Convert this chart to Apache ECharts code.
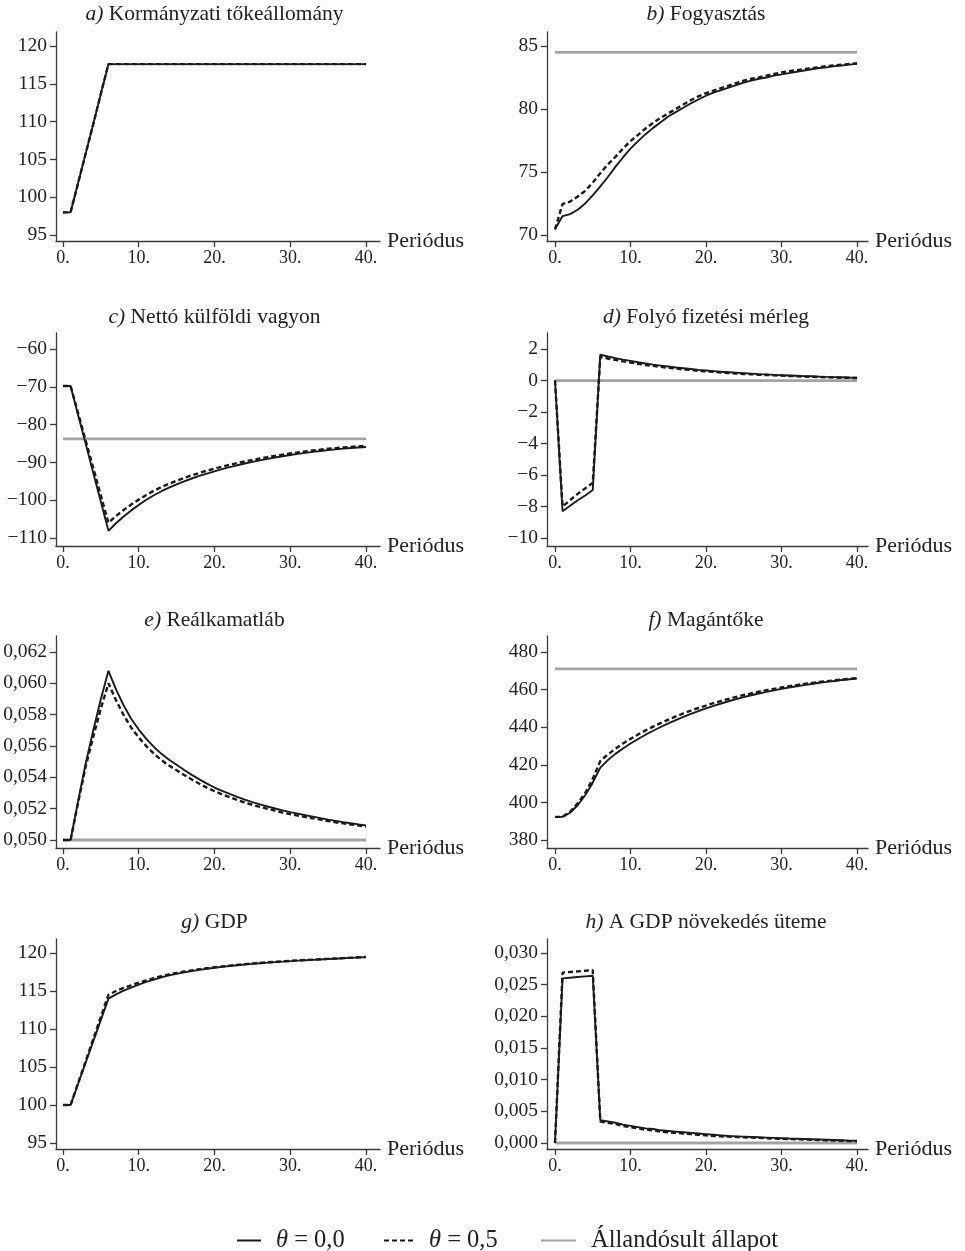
<!DOCTYPE html>
<html>
<head>
<meta charset="utf-8">
<script src="https://cdn.jsdelivr.net/npm/echarts@6/dist/echarts.min.js"></script>
<style>
html,body{margin:0;padding:0;background:#fff;}
#chart{width:965px;height:1251px;}
</style>
</head>
<body>
<div id="chart"></div>
<script>
// ---------- DATA ----------
const periods = [0,1,2,3,4,5,6,7,8,9,10,11,12,13,14,15,16,17,18,19,20,21,22,23,24,25,26,27,28,29,30,31,32,33,34,35,36,37,38,39,40];
const xTicks = [0,10,20,30,40];
const seriesNames = ['θ = 0,0', 'θ = 0,5', 'Állandósult állapot'];
const panelTitles = [
  ['a)', 'Kormányzati tőkeállomány'],
  ['b)', 'Fogyasztás'],
  ['c)', 'Nettó külföldi vagyon'],
  ['d)', 'Folyó fizetési mérleg'],
  ['e)', 'Reálkamatláb'],
  ['f)', 'Magántőke'],
  ['g)', 'GDP'],
  ['h)', 'A GDP növekedés üteme']
];

// a) Kormányzati tőkeállomány
const aTicks = [95,100,105,110,115,120];
const aTheta0 = [98,98,101.9,105.8,109.7,113.7,117.6,117.6,117.6,117.6,117.6,117.6,117.6,117.6,117.6,117.6,117.6,117.6,117.6,117.6,117.6,117.6,117.6,117.6,117.6,117.6,117.6,117.6,117.6,117.6,117.6,117.6,117.6,117.6,117.6,117.6,117.6,117.6,117.6,117.6,117.6];
const aTheta05 = [98,98,101.9,105.8,109.7,113.7,117.6,117.6,117.6,117.6,117.6,117.6,117.6,117.6,117.6,117.6,117.6,117.6,117.6,117.6,117.6,117.6,117.6,117.6,117.6,117.6,117.6,117.6,117.6,117.6,117.6,117.6,117.6,117.6,117.6,117.6,117.6,117.6,117.6,117.6,117.6];
const aSteady = null;

// b) Fogyasztás
const bTicks = [70,75,80,85];
const bTheta0 = [70.45,71.5,71.65,72.0,72.5,73.15,73.85,74.6,75.4,76.15,76.85,77.45,78.0,78.5,78.95,79.4,79.75,80.1,80.45,80.75,81.05,81.3,81.5,81.7,81.9,82.1,82.25,82.4,82.5,82.65,82.75,82.85,82.95,83.05,83.15,83.25,83.3,83.4,83.45,83.52,83.58];
const bTheta05 = [70.45,72.45,72.65,73.05,73.5,74.15,74.9,75.6,76.2,76.85,77.45,77.95,78.45,78.9,79.3,79.65,80.0,80.35,80.7,81.0,81.25,81.45,81.65,81.85,82.05,82.25,82.4,82.5,82.65,82.78,82.9,83.0,83.08,83.16,83.24,83.32,83.4,83.46,83.52,83.58,83.63];
const bSteady = 84.5;

// c) Nettó külföldi vagyon
const cTicks = [-110,-100,-90,-80,-70,-60];
const cTheta0 = [-69.8,-69.8,-77.5,-85.1,-92.8,-100.4,-108.1,-106.1,-104.3,-102.7,-101.25,-99.9,-98.7,-97.63,-96.67,-95.8,-95.0,-94.26,-93.58,-92.95,-92.36,-91.8,-91.27,-90.77,-90.3,-89.86,-89.45,-89.07,-88.71,-88.37,-88.05,-87.75,-87.47,-87.21,-86.97,-86.75,-86.55,-86.37,-86.21,-86.06,-85.92];
const cTheta05 = [-69.8,-69.8,-77.0,-84.3,-91.5,-98.8,-106.0,-104.2,-102.6,-101.15,-99.85,-98.6,-97.5,-96.53,-95.67,-94.85,-94.1,-93.41,-92.78,-92.2,-91.66,-91.14,-90.65,-90.19,-89.75,-89.34,-88.96,-88.61,-88.27,-87.95,-87.65,-87.37,-87.1,-86.85,-86.62,-86.41,-86.22,-86.05,-85.9,-85.76,-85.62];
const cSteady = -83.8;

// d) Folyó fizetési mérleg
const dTicks = [-10,-8,-6,-4,-2,0,2];
const dTheta0 = [0,-8.3,-7.95,-7.6,-7.3,-6.95,1.65,1.53,1.42,1.33,1.25,1.16,1.08,1.01,0.95,0.89,0.83,0.78,0.73,0.68,0.64,0.6,0.56,0.53,0.5,0.47,0.44,0.41,0.39,0.36,0.34,0.32,0.3,0.28,0.27,0.25,0.23,0.22,0.21,0.19,0.18];
const dTheta05 = [0,-8.0,-7.6,-7.2,-6.85,-6.5,1.5,1.4,1.31,1.22,1.14,1.06,0.99,0.93,0.87,0.81,0.76,0.71,0.67,0.62,0.58,0.55,0.51,0.48,0.45,0.42,0.4,0.37,0.35,0.33,0.31,0.29,0.27,0.25,0.24,0.22,0.21,0.19,0.18,0.17,0.16];
const dSteady = 0;

// e) Reálkamatláb
const eTicks = [0.050,0.052,0.054,0.056,0.058,0.060,0.062];
const eTheta0 = [0.05,0.05,0.0525,0.0549,0.0570,0.0590,0.0608,0.05961,0.0586,0.05774,0.05705,0.05645,0.05594,0.0555,0.05512,0.0548,0.05447,0.05416,0.05387,0.0536,0.05335,0.05314,0.05294,0.05275,0.05258,0.05242,0.05227,0.05214,0.05201,0.05189,0.05178,0.05168,0.05158,0.05149,0.0514,0.0513,0.05122,0.05114,0.05107,0.051,0.05093];
const eTheta05 = [0.05,0.05,0.0524,0.0547,0.0566,0.0584,0.0600,0.05892,0.05798,0.05718,0.05654,0.05599,0.05551,0.0551,0.05475,0.05445,0.05415,0.05386,0.05359,0.05334,0.05311,0.05291,0.05273,0.05255,0.05239,0.05225,0.05211,0.05199,0.05187,0.05175,0.05165,0.05156,0.05147,0.05138,0.0513,0.05121,0.05113,0.05106,0.05099,0.05093,0.05086];
const eSteady = 0.05;

// f) Magántőke
const fTicks = [380,400,420,440,460,480];
const fTheta0 = [392.3,392.3,394.5,398.5,403.8,410.5,418.5,422.5,425.8,428.7,431.3,433.7,436.0,438.1,440.1,442.0,443.8,445.5,447.1,448.6,450.0,451.3,452.6,453.8,454.9,456.0,457.0,457.9,458.8,459.6,460.4,461.1,461.8,462.4,463.0,463.6,464.1,464.6,465.1,465.5,465.9];
const fTheta05 = [392.3,392.3,395.0,399.5,405.0,412.5,422.0,425.5,428.5,431.3,433.8,436.1,438.3,440.3,442.2,444.0,445.7,447.3,448.8,450.2,451.5,452.8,454.0,455.1,456.1,457.1,458.0,458.9,459.7,460.4,461.1,461.8,462.4,463.0,463.5,464.0,464.5,464.9,465.3,465.7,466.1];
const fSteady = 471;

// g) GDP
const gTicks = [95,100,105,110,115,120];
const gTheta0 = [100,100,102.8,105.6,108.4,111.2,114.0,114.55,115.05,115.45,115.85,116.2,116.5,116.8,117.05,117.25,117.45,117.62,117.78,117.92,118.05,118.17,118.28,118.38,118.48,118.57,118.65,118.73,118.8,118.87,118.93,118.99,119.05,119.1,119.15,119.2,119.25,119.3,119.35,119.4,119.45];
const gTheta05 = [100,100,102.9,105.8,108.7,111.6,114.5,115.0,115.4,115.75,116.1,116.4,116.7,116.95,117.18,117.38,117.56,117.72,117.87,118.0,118.12,118.23,118.34,118.44,118.53,118.61,118.69,118.77,118.84,118.9,118.96,119.02,119.08,119.13,119.18,119.23,119.28,119.33,119.38,119.43,119.48];
const gSteady = null;

// h) A GDP növekedés üteme
const hTicks = [0,0.005,0.010,0.015,0.020,0.025,0.030];
const hTheta0 = [0,0.0260,0.0261,0.0262,0.0263,0.0264,0.0036,0.0034,0.0032,0.0029,0.0027,0.0025,0.0023,0.0022,0.0020,0.0019,0.0018,0.0017,0.0016,0.0015,0.0014,0.0013,0.0012,0.0011,0.00105,0.0010,0.00095,0.0009,0.00085,0.0008,0.00075,0.0007,0.00066,0.00062,0.00058,0.00054,0.0005,0.00046,0.00042,0.00038,0.00035];
const hTheta05 = [0,0.0269,0.0270,0.0271,0.0272,0.0273,0.0034,0.0032,0.0030,0.0027,0.0025,0.0023,0.0021,0.0020,0.0018,0.0017,0.0016,0.0015,0.0014,0.0013,0.0012,0.0011,0.00105,0.0010,0.00095,0.0009,0.00085,0.0008,0.00075,0.0007,0.00066,0.00062,0.00058,0.00054,0.0005,0.00046,0.00042,0.00038,0.00034,0.0003,0.00028];
const hSteady = 0;

// ---------- LAYOUT ----------
const FONT = "'Liberation Serif','Times New Roman',serif";
const panels = [
  {t0:aTheta0, t5:aTheta05, ss:aSteady, ticks:aTicks, dec:0},
  {t0:bTheta0, t5:bTheta05, ss:bSteady, ticks:bTicks, dec:0},
  {t0:cTheta0, t5:cTheta05, ss:cSteady, ticks:cTicks, dec:0},
  {t0:dTheta0, t5:dTheta05, ss:dSteady, ticks:dTicks, dec:0},
  {t0:eTheta0, t5:eTheta05, ss:eSteady, ticks:eTicks, dec:3},
  {t0:fTheta0, t5:fTheta05, ss:fSteady, ticks:fTicks, dec:0},
  {t0:gTheta0, t5:gTheta05, ss:gSteady, ticks:gTicks, dec:0},
  {t0:hTheta0, t5:hTheta05, ss:hSteady, ticks:hTicks, dec:3}
];
const layout = [
  {left:56, top:32, width:324, height:209, ymin:94.21, ymax:121.85},
  {left:547, top:32, width:321, height:209, ymin:69.52, ymax:86.11},
  {left:56, top:333, width:324, height:213, ymin:-112.12, ymax:-55.77},
  {left:547, top:333, width:321, height:213, ymin:-10.51, ymax:3.02},
  {left:56, top:636, width:324, height:212, ymin:0.04949, ymax:0.06302},
  {left:547, top:636, width:321, height:212, ymin:375.74, ymax:488.5},
  {left:56, top:939, width:324, height:210, ymin:94.21, ymax:121.84},
  {left:547, top:939, width:321, height:210, ymin:-0.00095, ymax:0.03221}
];
const colX = [{min:-0.924, max:41.85, center:214.5}, {min:-1.06, max:41.46, center:706}];
const titleCenters = [14, 317, 620, 922];
// legend placement: [icon left x, icon width, gap icon->text]
const legendSlots = [[236, 24, 10], [383, 32, 8], [540, 35, 10]];

function fmtY(v, dec){
  let s = dec ? v.toFixed(dec).replace('.', ',') : String(Math.round(v));
  return s.replace('-', '\u2212');
}

const grid = [], xAxis = [], yAxis = [], series = [], title = [];
const axisColor = '#3a3a3a';
panels.forEach((p, i) => {
  const L = layout[i];
  const col = i % 2, row = Math.floor(i / 2);
  grid.push({left:L.left, top:L.top, width:L.width, height:L.height});
  xAxis.push({
    type:'value', gridIndex:i, min:colX[col].min, max:colX[col].max,
    name:'Periódus', nameLocation:'end', nameGap:7,
    nameTextStyle:{fontFamily:FONT, fontSize:22, color:'#222', verticalAlign:'middle', align:'left'},
    axisLine:{show:true, onZero:false, lineStyle:{color:axisColor, width:1.3}},
    axisTick:{show:true, length:6, customValues:xTicks, lineStyle:{color:axisColor, width:1.3}},
    axisLabel:{customValues:xTicks, margin:8, fontFamily:FONT, fontSize:18, color:'#222', formatter:v => v + '.'},
    splitLine:{show:false}
  });
  yAxis.push({
    type:'value', gridIndex:i, min:L.ymin, max:L.ymax,
    axisLine:{show:true, onZero:false, lineStyle:{color:axisColor, width:1.3}},
    axisTick:{show:true, length:6, customValues:p.ticks, lineStyle:{color:axisColor, width:1.3}},
    axisLabel:{customValues:p.ticks, margin:9, fontFamily:FONT, fontSize:19.5, color:'#222', formatter:v => fmtY(v, p.dec)},
    splitLine:{show:false}
  });
  title.push({
    text:'{i|' + panelTitles[i][0] + '} ' + panelTitles[i][1],
    left:colX[col].center, top:titleCenters[row] - 12, textAlign:'center', padding:0,
    textStyle:{fontFamily:FONT, fontSize:21.5, fontWeight:'normal', color:'#222', lineHeight:24,
      rich:{i:{fontFamily:FONT, fontSize:21.5, fontStyle:'italic', color:'#222', lineHeight:24}}}
  });
  if (p.ss !== null) {
    series.push({
      name:seriesNames[2], type:'line', xAxisIndex:i, yAxisIndex:i, symbol:'none', silent:true,
      lineStyle:{color:'#a3a3a3', width:2.8}, itemStyle:{color:'#a3a3a3'},
      data:[[periods[0], p.ss], [periods[periods.length-1], p.ss]], z:1
    });
  }
  series.push({
    name:seriesNames[0], type:'line', xAxisIndex:i, yAxisIndex:i, symbol:'none', silent:true,
    lineStyle:{color:'#1a1a1a', width:1.9}, itemStyle:{color:'#1a1a1a'},
    data:periods.map((t, k) => [t, p.t0[k]]), z:3
  });
  series.push({
    name:seriesNames[1], type:'line', xAxisIndex:i, yAxisIndex:i, symbol:'none', silent:true,
    lineStyle:{color:'#1a1a1a', width:2.4, type:[5,3]}, itemStyle:{color:'#1a1a1a'},
    data:periods.map((t, k) => [t, p.t5[k]]), z:2
  });
});

const legend = seriesNames.map((n, k) => ({
  data:[n], left:legendSlots[k][0] - 5, top:1223,
  itemWidth:legendSlots[k][1], itemHeight:14, selectedMode:false,
  itemStyle:{opacity:0, color:'rgba(0,0,0,0)', borderWidth:0},
  formatter:s => s.charAt(0) === 'θ' ? '{i|θ}' + s.slice(1) : s,
  textStyle:{fontFamily:FONT, fontSize:24.5, color:'#222', padding:[0,0,0,legendSlots[k][2]],
    rich:{i:{fontFamily:FONT, fontSize:24.5, fontStyle:'italic', color:'#222'}}}
}));

const chart = echarts.init(document.getElementById('chart'), null, {renderer:'canvas'});
chart.setOption({
  backgroundColor:'#fff',
  animation:false,
  title:title,
  grid:grid, xAxis:xAxis, yAxis:yAxis, series:series,
  legend:legend
});
</script>
</body>
</html>
